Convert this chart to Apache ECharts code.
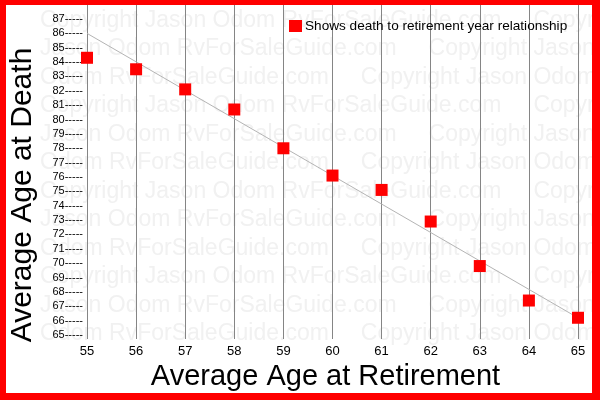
<!DOCTYPE html>
<html>
<head>
<meta charset="utf-8">
<script src="https://cdn.jsdelivr.net/npm/echarts@6/dist/echarts.min.js"></script>
<style>
  html, body { margin: 0; padding: 0; background: #ffffff; }
  #chart { width: 600px; height: 400px; }
</style>
</head>
<body>
<div id="chart"></div>
<script>
// Average age at retirement vs. average age at death
const retirementAges = [55, 56, 57, 58, 59, 60, 61, 62, 63, 64, 65];
const deathAges = [84.3, 83.5, 82.1, 80.7, 78.0, 76.1, 75.1, 72.9, 69.8, 67.4, 66.2];
const deathTicks = [65, 66, 67, 68, 69, 70, 71, 72, 73, 74, 75, 76, 77, 78, 79, 80, 81, 82, 83, 84, 85, 86, 87];
// Trend line end points (retirement age, death age)
const trendRetirement = [55, 65.3];
const trendDeath = [86.0, 65.6];
const seriesName = 'Shows death to retirement year relationship';
const watermarkLines = [
  'Copyright Jason Odom RvForSaleGuide.com     Copyright Jason Odom',
  'Jason Odom RvForSaleGuide.com     Copyright Jason Odom',
  'Odom RvForSaleGuide.com     Copyright Jason Odom RvForSale'
];

const FONT = '"Liberation Sans", Arial, sans-serif';

const watermark = [];
for (let i = 0; i < 12; i++) {
  watermark.push({
    type: 'text',
    left: 40,
    top: 9 + i * 28.5,
    z: -5,
    silent: true,
    style: {
      text: watermarkLines[i % 3],
      fill: '#f1f1f1',
      font: '23px ' + FONT
    }
  });
}

const border = [
  { type: 'rect', shape: { x: 0, y: 0, width: 600, height: 5 } },
  { type: 'rect', shape: { x: 0, y: 393, width: 600, height: 7 } },
  { type: 'rect', shape: { x: 0, y: 0, width: 6, height: 400 } },
  { type: 'rect', shape: { x: 592, y: 0, width: 8, height: 400 } }
].map(r => Object.assign(r, { z: 100, silent: true, style: { fill: '#ff0000' } }));

const chart = echarts.init(document.getElementById('chart'), null, { renderer: 'canvas' });

chart.setOption({
  backgroundColor: '#ffffff',
  animation: false,
  textStyle: { fontFamily: FONT },
  graphic: watermark.concat(border),
  legend: {
    data: [seriesName],
    left: 289,
    top: 19,
    padding: 0,
    icon: 'rect',
    itemWidth: 13,
    itemHeight: 12,
    itemStyle: { opacity: 1 },
    textStyle: { fontSize: 13.6, color: '#000', fontFamily: FONT, padding: [0, 0, 0, -2] }
  },
  grid: [
    { left: 87, right: 22, top: 5, bottom: 61 },
    { left: 87, right: 22, top: 19, bottom: 65 }
  ],
  xAxis: [
    {
      gridIndex: 0,
      type: 'value',
      min: retirementAges[0],
      max: retirementAges[retirementAges.length - 1],
      interval: 1,
      axisLine: { show: false },
      axisTick: { show: false },
      splitLine: { show: true, lineStyle: { color: '#858585', width: 1 } },
      axisLabel: { fontSize: 13, color: '#000', margin: 6, fontFamily: FONT },
      name: 'Average Age at Retirement',
      nameLocation: 'middle',
      nameGap: 21,
      nameTextStyle: { fontSize: 29, color: '#000', fontFamily: FONT, padding: [0, 14, 0, 0] }
    },
    {
      gridIndex: 1,
      type: 'value',
      min: retirementAges[0],
      max: retirementAges[retirementAges.length - 1],
      show: false
    }
  ],
  yAxis: [
    { gridIndex: 0, type: 'value', min: 0, max: 1, show: false },
    {
      gridIndex: 1,
      type: 'value',
      min: deathTicks[0],
      max: deathTicks[deathTicks.length - 1],
      interval: 1,
      axisLine: { show: false },
      axisTick: { show: false },
      splitLine: { show: false },
      axisLabel: {
        fontSize: 11,
        color: '#000',
        margin: 4,
        fontFamily: FONT,
        formatter: v => v + '-----'
      },
      name: 'Average Age at Death',
      nameLocation: 'middle',
      nameRotate: 90,
      nameGap: 49,
      nameTextStyle: { fontSize: 30, color: '#000', fontFamily: FONT, padding: [0, 36, 0, 0] }
    }
  ],
  series: [
    {
      type: 'line',
      name: 'trend',
      xAxisIndex: 1,
      yAxisIndex: 1,
      clip: false,
      silent: true,
      symbol: 'none',
      z: 3,
      lineStyle: { color: '#b4b4b4', width: 1 },
      data: trendRetirement.map((x, i) => [x, trendDeath[i]])
    },
    {
      type: 'scatter',
      name: seriesName,
      xAxisIndex: 1,
      yAxisIndex: 1,
      symbol: 'rect',
      symbolSize: 12,
      z: 5,
      itemStyle: { color: '#ff0000', opacity: 1 },
      data: retirementAges.map((x, i) => [x, deathAges[i]])
    }
  ]
});
</script>
</body>
</html>
